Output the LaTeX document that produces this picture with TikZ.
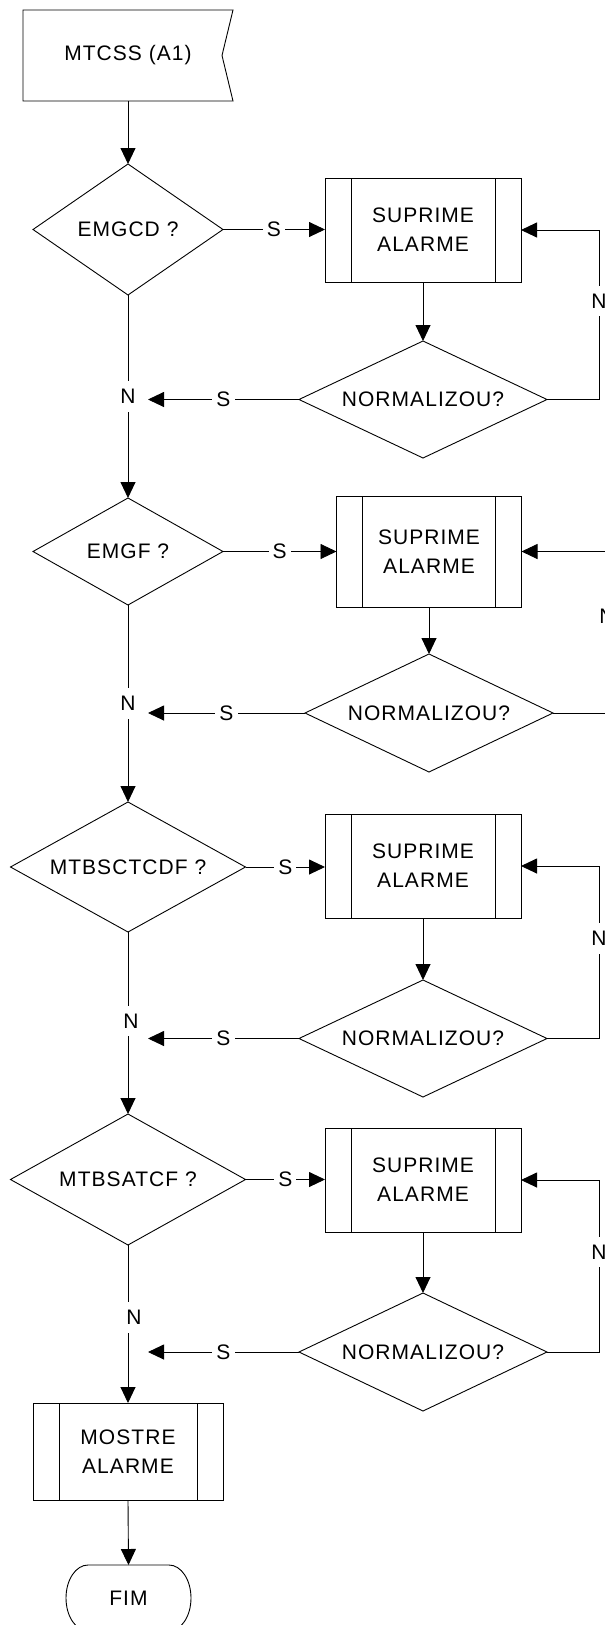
\documentclass[tikz,border=0pt]{standalone}
\usepackage{fontspec}
\setmainfont{Liberation Sans}[LetterSpace=5]
\usetikzlibrary{shapes.geometric,arrows.meta}
\begin{document}
\begin{tikzpicture}[x=1pt, y=-1pt, line width=0.9pt, font=\fontsize{21}{29}\selectfont,
        every node/.style={outer sep=0pt},
        decisao/.style={diamond, draw, aspect=2, inner sep=0pt},
        subproc/.style={rectangle, draw, align=center, inner sep=0pt, path picture={
            \draw ([xshift=26pt]path picture bounding box.north west) -- ([xshift=26pt]path picture bounding box.south west);
            \draw ([xshift=-26pt]path picture bounding box.north east) -- ([xshift=-26pt]path picture bounding box.south east);}},
        rotulo/.style={fill=white, inner xsep=4pt, inner ysep=8pt},
        seta/.style={-{Triangle[length=16pt, width=15pt]}}]
        \useasboundingbox (0,0) rectangle (605,1625);
        \clip (0,0) rectangle (605,1625);
        \coordinate (jcol) at (148,0);

        \node[minimum width=210pt, minimum height=91pt] (ini) at (128,55.5) {MTCSS (A1)};
        \draw (ini.north west) -- (ini.north east) -- ([xshift=-11pt]ini.east) -- (ini.south east) -- (ini.south west) -- cycle;

        \node[decisao, minimum width=190pt, minimum height=131pt] (d1) at (128,229.5) {EMGCD ?};
        \node[subproc, minimum width=196pt, minimum height=104pt] (s1) at (423,230) {SUPRIME\\ALARME};
        \node[decisao, minimum width=248pt, minimum height=117pt] (m1) at (423,399.5) {NORMALIZOU?};

        \node[decisao, minimum width=190pt, minimum height=107pt] (d2) at (128,551.5) {EMGF ?};
        \node[subproc, minimum width=185pt, minimum height=111pt] (s2) at (429,551.5) {SUPRIME\\ALARME};
        \node[decisao, minimum width=248pt, minimum height=118pt] (m2) at (429,713) {NORMALIZOU?};

        \node[decisao, minimum width=235pt, minimum height=130pt] (d3) at (128,867) {MTBSCTCDF ?};
        \node[subproc, minimum width=196pt, minimum height=104pt] (s3) at (423,866) {SUPRIME\\ALARME};
        \node[decisao, minimum width=248pt, minimum height=117pt] (m3) at (423,1038.5) {NORMALIZOU?};

        \node[decisao, minimum width=235pt, minimum height=131pt] (d4) at (128,1179.5) {MTBSATCF ?};
        \node[subproc, minimum width=196pt, minimum height=104pt] (s4) at (423,1180) {SUPRIME\\ALARME};
        \node[decisao, minimum width=248pt, minimum height=118pt] (m4) at (423,1352) {NORMALIZOU?};

        \node[subproc, minimum width=190pt, minimum height=97pt] (mostra) at (128,1451.5) {MOSTRE\\ALARME};
        \node[minimum width=125pt, minimum height=66pt] (fim) at (128.5,1598) {FIM};
        \draw ([xshift=22pt]fim.north west) -- ([xshift=-22pt]fim.north east) arc[start angle=90, end angle=-90, x radius=22pt, y radius=33pt]
            -- ([xshift=22pt]fim.south west) arc[start angle=270, end angle=90, x radius=22pt, y radius=33pt] -- cycle;

        \draw[seta] (ini.south) -- (d1.north);
        \draw[seta] (d1.east) -- node[rotulo] (ls1) {S} (d1.east -| s1.west);
        \draw[seta] (s1.south) -- (m1.north);
        \draw[seta] (m1.east) -- ++(52,0) |- node[rotulo, pos=0.29] (ln1) {N} (s1.east);
        \draw[seta] (m1.west) -- node[rotulo] (lm1) {S} (m1.west -| jcol);
        \draw[seta] (d1.south) -- node[rotulo, pos=0.5] (lc1) {N} (d2.north);

        \draw[seta] (d2.east) -- node[rotulo] (ls2) {S} (d2.east -| s2.west);
        \draw[seta] (s2.south) -- (m2.north);
        \draw[seta] (m2.east) -- ++(54,0) |- node[rotulo, pos=0.30] (ln2) {N} (s2.east);
        \draw[seta] (m2.west) -- node[rotulo] (lm2) {S} (m2.west -| jcol);
        \draw[seta] (d2.south) -- node[rotulo, pos=0.5] (lc2) {N} (d3.north);

        \draw[seta] (d3.east) -- node[rotulo] (ls3) {S} (d3.east -| s3.west);
        \draw[seta] (s3.south) -- (m3.north);
        \draw[seta] (m3.east) -- ++(52,0) |- node[rotulo, pos=0.29] (ln3) {N} (s3.east);
        \draw[seta] (m3.west) -- node[rotulo] (lm3) {S} (m3.west -| jcol);
        \draw[seta] (d3.south) -- node[rotulo, pos=0.49, xshift=3pt] (lc3) {N} (d4.north);

        \draw[seta] (d4.east) -- node[rotulo] (ls4) {S} (d4.east -| s4.west);
        \draw[seta] (s4.south) -- (m4.north);
        \draw[seta] (m4.east) -- ++(52,0) |- node[rotulo, pos=0.29] (ln4) {N} (s4.east);
        \draw[seta] (m4.west) -- node[rotulo] (lm4) {S} (m4.west -| jcol);
        \draw[seta] (d4.south) -- node[rotulo, pos=0.46, xshift=6pt] (lc4) {N} (mostra.north);

        \draw[seta] (mostra.south) -- (fim.north);
\end{tikzpicture}
\end{document}
